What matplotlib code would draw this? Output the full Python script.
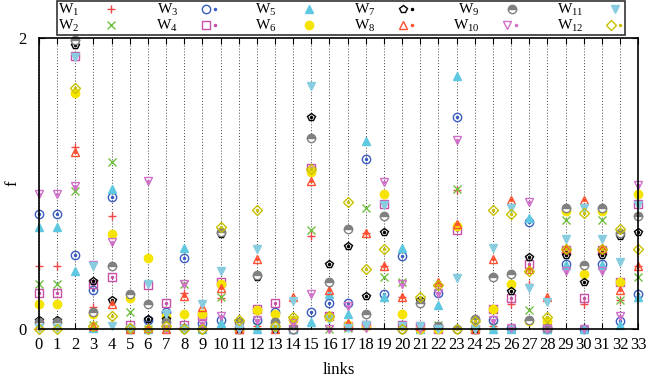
import numpy as np
import matplotlib
matplotlib.use('Agg')
import matplotlib.pyplot as plt
from matplotlib.legend_handler import HandlerTuple

plt.rcParams['font.family'] = ['Liberation Serif', 'DejaVu Serif']

links = np.arange(34)

W1 = [0.43, 0.43, 1.25, 0.15, 0.78, 0.0, 0.0, 0.0, 0.25, 0.0, 0.21, 0.0, 0.02, 0.0, 0.0, 0.64, 0.0,
      0.02, 0.66, 0.43, 0.22, 0.0, 0.31, 0.955, 0.0, 0.02, 0.17, 0.31, 0.0, 0.55, 0.17, 0.55, 0.20, 0.43]
W2 = [0.31, 0.31, 0.95, 0.03, 1.15, 0.12, 0.0, 0.0, 0.31, 0.0, 0.22, 0.0, 0.02, 0.0, 0.0, 0.68, 0.0,
      0.01, 0.83, 0.36, 0.32, 0.0, 0.03, 0.96, 0.0, 0.02, 0.0, 0.13, 0.0, 0.75, 0.0, 0.75, 0.20, 0.36]
W3 = [0.79, 0.79, 0.51, 0.27, 0.91, 0.0, 0.06, 0.12, 0.49, 0.04, 0.06, 0.0, 0.06, 0.12, 0.0, 0.12, 0.18,
      0.18, 1.17, 0.24, 0.50, 0.0, 0.245, 1.46, 0.0, 0.06, 0.01, 0.735, 0.0, 0.45, 0.0, 0.45, 0.055, 0.24]
W4 = [0.25, 0.25, 1.88, 0.31, 0.36, 0.03, 0.30, 0.18, 0.03, 0.09, 0.32, 0.0, 0.14, 0.18, 0.0, 1.11, 0.09,
      0.02, 0.03, 0.86, 0.03, 0.02, 0.0, 0.68, 0.0, 0.135, 0.215, 0.445, 0.01, 0.54, 0.215, 0.54, 0.32, 0.86]
W5 = [0.70, 0.70, 0.40, 0.01, 0.96, 0.0, 0.0, 0.05, 0.56, 0.0, 0.04, 0.0, 0.0, 0.08, 0.0, 0.05, 0.24,
      0.10, 1.29, 0.22, 0.56, 0.0, 0.165, 1.74, 0.0, 0.0, 0.0, 0.765, 0.0, 0.44, 0.0, 0.44, 0.03, 0.22]
W6 = [0.17, 0.17, 1.62, 0.10, 0.65, 0.21, 0.49, 0.09, 0.10, 0.10, 0.31, 0.0, 0.13, 0.10, 0.06, 1.08, 0.08,
      0.03, 0.02, 0.93, 0.10, 0.0, 0.0, 0.71, 0.0, 0.14, 0.31, 0.055, 0.055, 0.81, 0.38, 0.81, 0.32, 0.93]
W7 = [0.06, 0.06, 1.95, 0.33, 0.20, 0.01, 0.07, 0.07, 0.0, 0.0, 0.65, 0.0, 0.36, 0.0, 0.0, 1.46, 0.45,
      0.57, 0.23, 0.67, 0.0, 0.20, 0.02, 0.0, 0.0, 0.36, 0.26, 0.495, 0.01, 0.51, 0.32, 0.51, 0.64, 0.67]
W8 = [0.03, 0.03, 1.22, 0.02, 0.17, 0.0, 0.01, 0.0, 0.23, 0.15, 0.28, 0.0, 0.48, 0.0, 0.22, 1.02, 0.27,
      0.04, 0.66, 0.43, 0.22, 0.02, 0.32, 0.72, 0.0, 0.48, 0.89, 0.41, 0.22, 0.56, 0.89, 0.56, 0.27, 0.43]
W9 = [0.05, 0.05, 1.99, 0.12, 0.43, 0.24, 0.17, 0.05, 0.01, 0.0, 0.67, 0.05, 0.37, 0.05, 0.0, 1.31, 0.32,
      0.69, 0.10, 0.78, 0.0, 0.18, 0.02, 0.0, 0.066, 0.36, 0.38, 0.06, 0.01, 0.83, 0.44, 0.83, 0.66, 0.78]
W10 = [0.93, 0.93, 0.98, 0.44, 0.60, 0.0, 1.02, 0.0, 0.31, 0.04, 0.09, 0.0, 0.06, 0.0, 0.04, 0.24, 0.0,
       0.16, 0.01, 1.01, 0.31, 0.0, 0.25, 1.30, 0.0, 0.06, 0.01, 0.87, 0.0, 0.40, 0.0, 0.40, 0.09, 0.99]
W11 = [0.01, 0.01, 1.87, 0.43, 0.02, 0.0, 0.31, 0.10, 0.0, 0.17, 0.40, 0.0, 0.55, 0.0, 0.19, 1.67, 0.07,
       0.01, 0.03, 0.85, 0.02, 0.02, 0.0, 0.35, 0.0, 0.555, 0.83, 0.28, 0.185, 0.62, 0.83, 0.62, 0.46, 0.85]
W12 = [0.0, 0.0, 1.66, 0.02, 0.09, 0.01, 0.0, 0.02, 0.0, 0.0, 0.70, 0.06, 0.82, 0.02, 0.08, 1.10, 0.09,
       0.87, 0.41, 0.55, 0.0, 0.22, 0.30, 0.0, 0.055, 0.82, 0.79, 0.40, 0.08, 0.55, 0.80, 0.55, 0.69, 0.55]

series = [W1, W2, W3, W4, W5, W6, W7, W8, W9, W10, W11, W12]
labels = [r'$\mathregular{W_{%d}}$' % (i + 1) for i in range(12)]

# marker, colour, filled?, centre dot?
styles = [
    ('+', '#f04848', True, False),
    ('x', '#70c040', True, False),
    ('o', '#3a5cc0', False, True),
    ('s', '#c850a8', False, True),
    ('^', '#5ec8e0', True, False),
    ('o', '#f5e400', True, False),
    ('p', '#000000', False, True),
    ('^', '#ff5030', False, True),
    ('o', '#808080', 'half', False),
    ('v', '#d070c8', False, True),
    ('v', '#88cce0', True, False),
    ('D', '#c8c000', False, True),
]

fig = plt.figure(figsize=(6.48, 3.85), dpi=100)
ax = fig.add_axes([0.060, 0.1455, 0.925, 0.7555])

handles = []
for vals, (m, c, filled, dot) in zip(series, styles):
    ms = 5.0 if m == 'D' else 6.0
    if filled is True:
        h, = ax.plot(links, vals, ls='none', marker=m, ms=ms, color=c, mew=1.0, clip_on=False)
    elif filled == 'half':
        h, = ax.plot(links, vals, ls='none', marker=m, ms=ms, color=c, mfc=c, mfcalt='white',
                     fillstyle='top', mew=1.0, clip_on=False)
    else:
        h, = ax.plot(links, vals, ls='none', marker=m, ms=ms, mfc='none', mec=c, mew=1.0, clip_on=False)
    if dot:
        d, = ax.plot(links, vals, ls='none', marker='o', ms=1.5, color=c, clip_on=False)
        handles.append((h, d))
    else:
        handles.append(h)

ax.set_xlim(0, 33)
ax.set_ylim(0, 2)
ax.set_xticks(links)
ax.set_yticks([0, 2])
ax.tick_params(direction='in', labelsize=12, top=True, right=True, length=4, width=0.8)
ax.tick_params(axis='x', pad=6)
ax.tick_params(axis='y', pad=9)
ax.grid(axis='x', color='#444444', linestyle=(0, (1, 2)), linewidth=0.7)
for s in ax.spines.values():
    s.set_linewidth(1.2)

ax.set_xlabel('links', fontsize=12, labelpad=6)
ax.set_ylabel('f', fontsize=12)
ax.yaxis.set_label_coords(-0.03, 0.5)

leg = fig.legend(handles, labels, ncol=6, markerfirst=False, loc='upper left',
                 bbox_to_anchor=(0.088, 0.997, 0.877, 0.0), mode='expand',
                 handler_map={tuple: HandlerTuple(ndivide=None, pad=0)},
                 fontsize=11, frameon=True, fancybox=False, borderpad=0.05,
                 labelspacing=0.0, handlelength=1.2, handletextpad=1.5,
                 columnspacing=0.5, borderaxespad=0)
leg.get_frame().set_edgecolor('black')
leg.get_frame().set_linewidth(1.2)

fig.savefig('out.png', dpi=100)
